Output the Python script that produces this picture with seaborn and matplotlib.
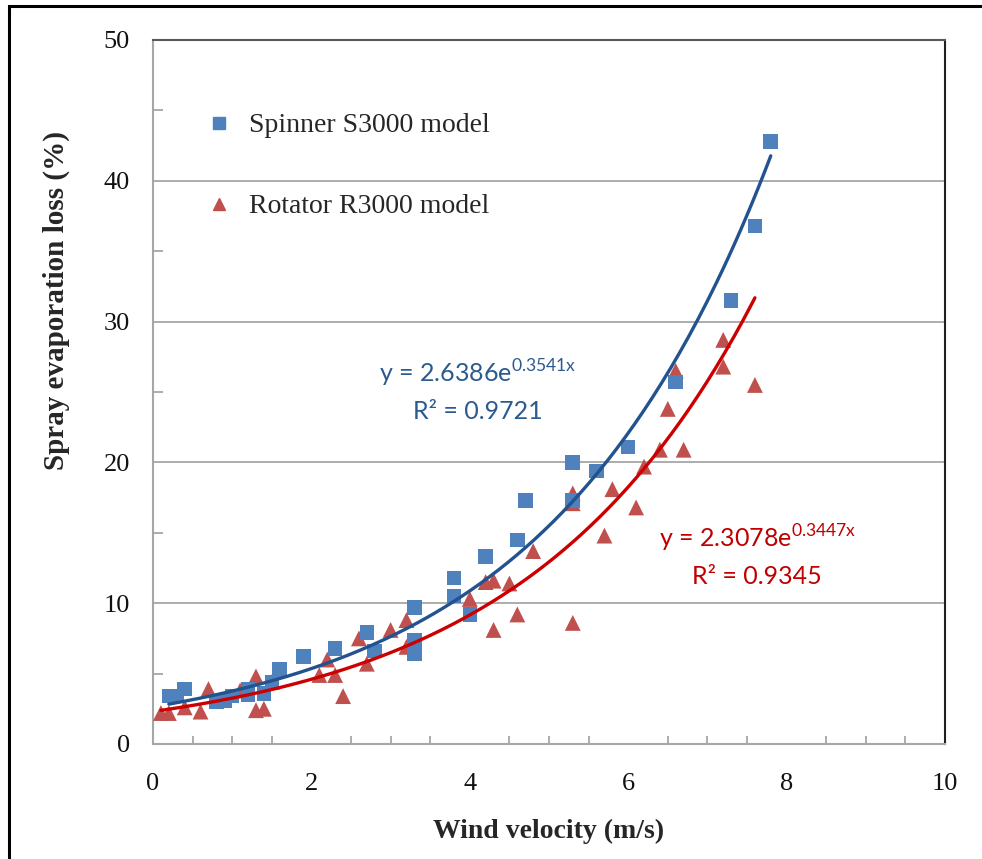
import numpy as np
import pandas as pd
import seaborn as sns
import matplotlib
matplotlib.use("Agg")
import matplotlib.pyplot as plt
from matplotlib.patches import Rectangle
from matplotlib.ticker import MultipleLocator
from matplotlib.lines import Line2D

# ---------------- data ----------------
spinner_x = [0.2, 0.3, 0.4, 0.8, 0.9, 1.0, 1.2, 1.2, 1.4, 1.5, 1.6, 1.9, 2.3, 2.7, 2.8,
             3.3, 3.3, 3.3, 3.8, 3.8, 4.0, 4.2, 4.6, 4.7, 5.3, 5.3, 5.6, 6.0, 6.6, 7.3, 7.6, 7.8]
spinner_y = [3.4, 3.4, 3.9, 3.0, 3.1, 3.4, 3.9, 3.5, 3.6, 4.4, 5.3, 6.2, 6.8, 7.9, 6.6,
             9.7, 7.4, 6.4, 11.8, 10.5, 9.2, 13.3, 14.5, 17.3, 20.0, 17.3, 19.4, 21.1, 25.7, 31.5, 36.8, 42.8]

rotator_x = [0.1, 0.2, 0.4, 0.6, 0.7, 1.1, 1.3, 1.3, 1.4, 1.5, 2.1, 2.2, 2.3, 2.4, 2.6,
             2.7, 3.0, 3.2, 3.2, 4.0, 4.2, 4.3, 4.3, 4.5, 4.6, 4.8, 5.3, 5.3, 5.3, 5.7,
             5.8, 6.1, 6.2, 6.4, 6.5, 6.6, 6.7, 7.2, 7.2, 7.6]
rotator_y = [2.2, 2.2, 2.6, 2.3, 3.9, 3.8, 4.8, 2.4, 2.5, 4.4, 4.9, 6.0, 4.9, 3.4, 7.5,
             5.7, 8.1, 8.8, 6.9, 10.3, 11.5, 11.6, 8.1, 11.4, 9.2, 13.7, 17.8, 17.1, 8.6, 14.8,
             18.1, 16.8, 19.7, 20.9, 23.8, 26.5, 20.9, 28.7, 26.8, 25.5]

# trendline coefficients as shown in the chart: y = a * exp(b x)
spinner_fit = dict(a=2.6386, b=0.3541, r2=0.9721, xmin=0.2, xmax=7.8)
rotator_fit = dict(a=2.3078, b=0.3447, r2=0.9345, xmin=0.1, xmax=7.6)

series_labels = ["Spinner S3000 model", "Rotator R3000 model"]
x_label = "Wind velocity (m/s)"
y_label = "Spray evaporation loss (%)"

# ---------------- style ----------------
sns.set_theme(style="white")
plt.rcParams["font.family"] = ["Liberation Serif", "DejaVu Serif"]
plt.rcParams["mathtext.fontset"] = "custom"
plt.rcParams["mathtext.rm"] = "Lato"

BLUE = "#4F81BD"
RED = "#C0504D"
BLUE_LINE = "#23538F"
RED_LINE = "#CC0000"
BLUE_TXT = "#2B5A8F"
RED_TXT = "#C00000"

fig = plt.figure(figsize=(9.82, 8.59), dpi=100)
ax = fig.add_axes([153/982, 1-744/859, (945-153)/982, (744-40)/859])

sp = pd.DataFrame({"x": spinner_x, "y": spinner_y})
ro = pd.DataFrame({"x": rotator_x, "y": rotator_y})

sns.scatterplot(data=ro, x="x", y="y", marker="^", s=130, color=RED,
                edgecolor="none", ax=ax, zorder=3)
sns.scatterplot(data=sp, x="x", y="y", marker="s", s=110, color=BLUE,
                edgecolor="none", ax=ax, zorder=3)

for fit, col in [(spinner_fit, BLUE_LINE), (rotator_fit, RED_LINE)]:
    xx = np.linspace(fit["xmin"], fit["xmax"], 200)
    yy = fit["a"] * np.exp(fit["b"] * xx)
    sns.lineplot(x=xx, y=yy, color=col, lw=2.4, ax=ax, zorder=4)

ax.set_xlim(0, 10)
ax.set_ylim(0, 50)
ax.xaxis.set_major_locator(MultipleLocator(2))
ax.xaxis.set_minor_locator(MultipleLocator(0.5))
ax.yaxis.set_major_locator(MultipleLocator(10))
ax.yaxis.set_minor_locator(MultipleLocator(5))

ax.grid(axis="y", which="major", color="#A6A6A6", lw=1.3)
ax.set_axisbelow(True)

for side in ["left", "bottom"]:
    ax.spines[side].set_color("#A6A6A6")
    ax.spines[side].set_linewidth(1.5)
ax.spines["top"].set_color("#595959")
ax.spines["top"].set_linewidth(1.5)
ax.spines["right"].set_color("#202020")
ax.spines["right"].set_linewidth(1.5)

ax.tick_params(axis="y", which="major", direction="inout", length=15, width=1.3,
               color="#A6A6A6", labelsize=19, pad=9, labelcolor="#111111")
ax.tick_params(axis="y", which="minor", direction="in", length=7, width=1.3,
               color="#A6A6A6", left=True)
ax.tick_params(axis="x", which="major", direction="inout", length=22, width=1.3,
               color="#A6A6A6", labelsize=19, pad=10, labelcolor="#111111")
ax.tick_params(axis="x", which="minor", direction="in", length=6, width=1.3,
               color="#A6A6A6", bottom=True)

ax.set_xlabel(x_label, fontsize=20, fontweight="bold")
ax.set_ylabel(y_label, fontsize=21, fontweight="bold")
ax.yaxis.set_label_coords(-0.105, 0.63)
ax.xaxis.set_label_coords(0.5, -0.107)

# legend
handles = [Line2D([], [], marker="s", ls="none", color=BLUE, markersize=8),
           Line2D([], [], marker="^", ls="none", color=RED, markersize=9)]
leg = ax.legend(handles, series_labels, loc="upper left", bbox_to_anchor=(0.034, 0.932),
                frameon=False, fontsize=20, labelspacing=2.0, handletextpad=0.6,
                handlelength=1.0)

# equations
def eq_text(x, y, fit, col):
    ax.text(x, y, r"y = %.4fe$^{\mathrm{%.4fx}}$" % (fit["a"], fit["b"]),
            color=col, fontsize=18, family="Lato", ha="center", va="center")
    ax.text(x, y - 2.7, "R² = %.4f" % fit["r2"],
            color=col, fontsize=18, family="Lato", ha="center", va="center")

eq_text(4.1, 26.3, spinner_fit, BLUE_TXT)
eq_text(7.63, 14.6, rotator_fit, RED_TXT)

# outer border
fig.patches.append(Rectangle((9/982, -0.02), 1.1, 1 - 6/859 + 0.02,
                             transform=fig.transFigure, fill=False,
                             edgecolor="black", lw=2.2))

fig.savefig("out.png", dpi=100)
